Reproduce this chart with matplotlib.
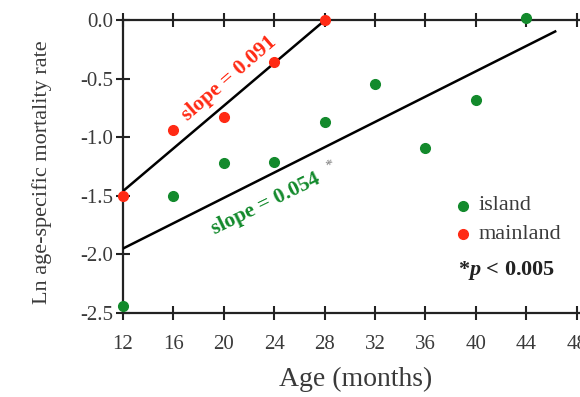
import matplotlib
matplotlib.use("Agg")
import matplotlib.pyplot as plt
import numpy as np

plt.rcParams['font.family'] = ['Liberation Serif', 'DejaVu Serif']
plt.rcParams['mathtext.fontset'] = 'custom'
plt.rcParams['mathtext.it'] = 'Liberation Serif:italic:bold'
plt.rcParams['mathtext.rm'] = 'Liberation Serif:bold'

# Ln age-specific mortality by age class
island_age = [12, 16, 20, 24, 28, 32, 36, 40, 44]
island_ln = [-2.44, -1.50, -1.22, -1.21, -0.87, -0.55, -1.09, -0.68, 0.02]
mainland_age = [12, 16, 20, 24, 28]
mainland_ln = [-1.50, -0.94, -0.83, -0.36, 0.0]

# Fitted regression lines (slope, value at 12 months, last age)
mainland_slope, mainland_start, mainland_end = 0.091, -1.46, 28
island_slope, island_start, island_end = 0.054, -1.95, 46.3

xticks = [12, 16, 20, 24, 28, 32, 36, 40, 44, 48]
yticks = [0.0, -0.5, -1.0, -1.5, -2.0, -2.5]

GREEN = '#138a2c'
RED = '#ff2a14'
TXT = '#3a3a3a'

fig = plt.figure(figsize=(5.8, 3.97), dpi=100)
W, H = 580, 397
x0_px, x1_px = 123, 123 + 37 * 12.6
y_top_px, y_bot_px = 20, 313
ax = fig.add_axes([x0_px / W, 1 - y_bot_px / H, (x1_px - x0_px) / W, (y_bot_px - y_top_px) / H])
ax.set_xlim(12, 49)
ax.set_ylim(-2.5, 0.0)

for s in ['top', 'bottom', 'left']:
    ax.spines[s].set_linewidth(1.6)
    ax.spines[s].set_color('#222222')
ax.spines['right'].set_visible(False)

ax.set_xticks(xticks)
ax.set_xticklabels([str(t) for t in xticks])
ax.set_yticks(yticks)
ax.set_yticklabels(['%.1f' % t for t in yticks])
ax.tick_params(axis='both', direction='inout', length=10, width=1.5, color='#222222',
               labelsize=15, labelcolor=TXT, top=True)
ax.tick_params(axis='x', pad=11)
ax.tick_params(axis='y', pad=2)

# regression lines
mx = np.array([12, mainland_end])
ax.plot(mx, mainland_start + mainland_slope * (mx - 12), color='black', lw=1.8, zorder=3)
ix = np.array([12, island_end])
ax.plot(ix, island_start + island_slope * (ix - 12), color='black', lw=1.8, zorder=3)

ax.plot(island_age, island_ln, 'o', color=GREEN, ms=7, clip_on=False, zorder=5)
ax.plot(mainland_age, mainland_ln, 'o', color=RED, ms=7, clip_on=False, zorder=5)

ax.text(20.4, -0.50, 'slope = 0.091', color=RED, fontsize=15.5, fontweight='bold',
        rotation=41, ha='center', va='center', rotation_mode='anchor')
ax.text(23.3, -1.57, 'slope = 0.054', color=GREEN, fontsize=15.5, fontweight='bold',
        rotation=26, ha='center', va='center', rotation_mode='anchor')
ax.text(28.4, -1.24, '*', color='#777777', fontsize=11, ha='center', va='center', rotation=26)

# key
ax.plot([39.0], [-1.584], 'o', color=GREEN, ms=7, clip_on=False)
ax.text(40.2, -1.584, 'island', fontsize=16, color=TXT, va='center', ha='left')
ax.plot([39.0], [-1.83], 'o', color=RED, ms=7, clip_on=False)
ax.text(40.2, -1.83, 'mainland', fontsize=16, color=TXT, va='center', ha='left')
ax.text(38.6, -2.14, r'*$p$ < 0.005', fontsize=16, fontweight='bold',
        color='#222222', va='center', ha='left')

ax.set_xlabel('Age (months)', fontsize=20, color=TXT, labelpad=9)
fig.text(42 / W, 1 - 172 / H, 'Ln age-specific mortality rate', rotation=90,
         fontsize=16, color=TXT, ha='center', va='center')

fig.savefig('out.png', dpi=100)
